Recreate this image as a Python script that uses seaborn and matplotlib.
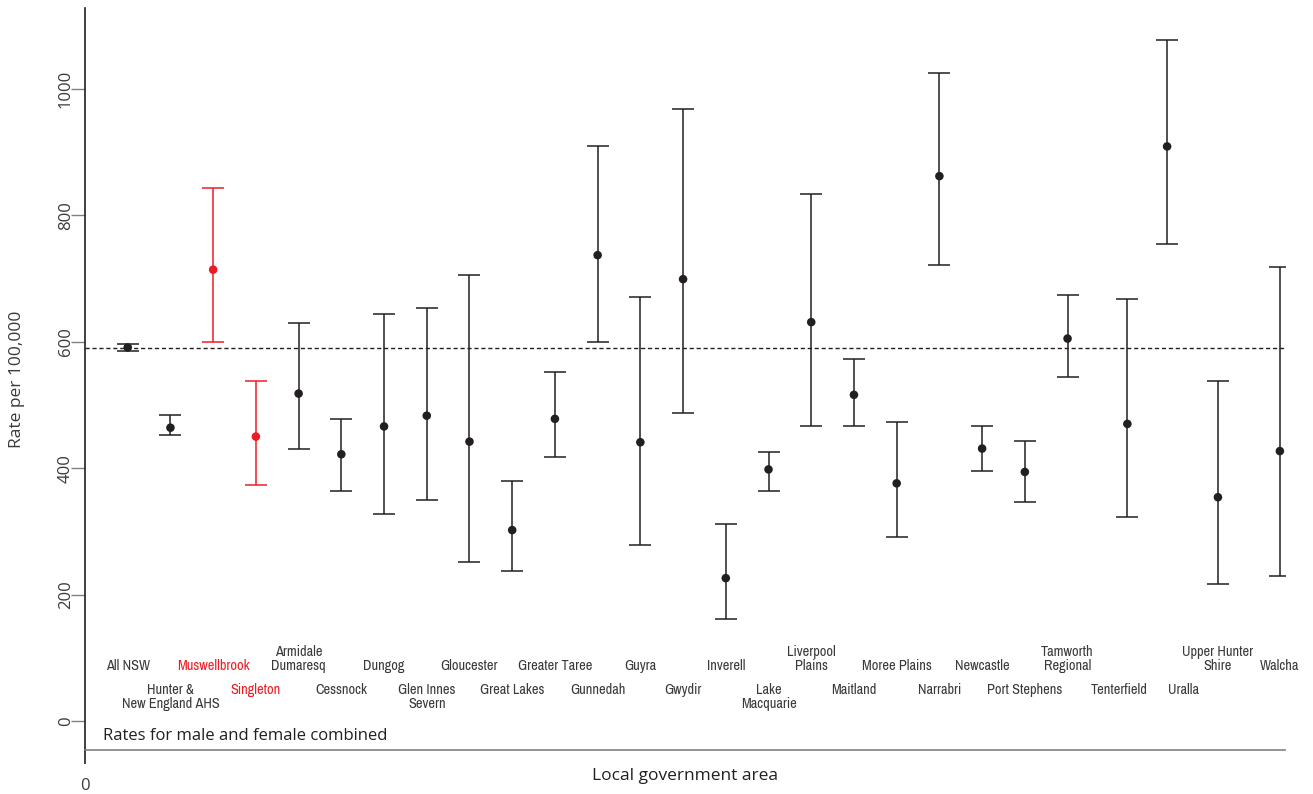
import numpy as np
import pandas as pd
import matplotlib
matplotlib.use("Agg")
import matplotlib.pyplot as plt
from matplotlib import font_manager
import seaborn as sns

# ---------------- data ----------------
lga = ["All NSW", "Hunter &\nNew England AHS", "Muswellbrook", "Singleton",
       "Armidale\nDumaresq", "Cessnock", "Dungog", "Glen Innes\nSevern",
       "Gloucester", "Great Lakes", "Greater Taree", "Gunnedah", "Guyra",
       "Gwydir", "Inverell", "Lake\nMacquarie", "Liverpool\nPlains", "Maitland",
       "Moree Plains", "Narrabri", "Newcastle", "Port Stephens",
       "Tamworth\nRegional", "Tenterfield", "Uralla", "Upper Hunter\nShire",
       "Walcha"]
xpos = [1, 2, 3, 4, 5, 6, 7, 8, 9, 10, 11, 12, 13, 14, 15, 16, 17, 18, 19,
        20, 21, 22, 23, 24.4, 25.33, 26.52, 27.97]
rate = [591, 464, 714, 450, 518, 422, 466, 483, 442, 302, 478, 737, 441, 699,
        226, 398, 631, 516, 376, 862, 431, 394, 605, 470, 909, 354, 427]
lower = [585.5, 452, 600, 373, 430, 364, 327, 349, 252, 238, 417, 599, 279,
         488, 162, 364.5, 466, 467, 291, 722, 395, 346, 544, 322.5, 755, 217,
         230]
upper = [596.5, 484, 843, 538, 630, 477, 643.5, 653, 705, 380, 552, 909,
         670.5, 969, 311, 425, 833, 573, 473, 1024.5, 467, 443, 673.5, 667,
         1078, 538.5, 718]
highlight = ["Muswellbrook", "Singleton"]
label_row = [0, 1, 0, 1, 0, 1, 0, 1, 0, 1, 0, 1, 0, 1, 0, 1, 0, 1, 0, 1, 0, 1,
             0, 1, 1, 0, 0]
nsw_rate = 590
y_ticks = [0, 200, 400, 600, 800, 1000]

# ---------------- style ----------------
BLACK = "#231f20"
RED = "#ed1c24"
GREY = "#808080"
TXT = "#3a3a3a"

sns.set_style("ticks")
avail = sorted({f.name for f in font_manager.fontManager.ttflist})
cond = [n for n in avail if ("Narrow" in n or "Condensed" in n)]
main_font = ["Open Sans", "DejaVu Sans"]
narrow_font = (cond[:1] if cond else []) + ["Roboto", "DejaVu Sans"]
label_size = 10.3 if cond else 9.3
plt.rcParams["font.family"] = main_font

df = pd.DataFrame({"lga": lga, "x": xpos, "rate": rate,
                   "lower": lower, "upper": upper})
df["group"] = np.where(df["lga"].isin(highlight), "hl", "normal")

fig = plt.figure(figsize=(13.13, 7.94), dpi=100)
ax = fig.add_axes([85 / 1313, 44 / 794, 1200 / 1313, 742 / 794])

for grp, col in [("normal", BLACK), ("hl", RED)]:
    sub = df[df["group"] == grp]
    ax.errorbar(sub["x"], sub["rate"],
                yerr=[sub["rate"] - sub["lower"], sub["upper"] - sub["rate"]],
                fmt="none", ecolor=col, elinewidth=1.1, capsize=7.9,
                capthick=1.1, zorder=2)

sns.scatterplot(data=df, x="x", y="rate", hue="group",
                palette={"normal": BLACK, "hl": RED}, s=38, linewidth=0,
                legend=False, ax=ax, zorder=3)

ax.axhline(nsw_rate, color=BLACK, lw=1.0, ls=(0, (3, 2)), zorder=1)

# category labels (a couple nudged sideways as in the reference)
nudge = {"Tenterfield": -0.2, "Uralla": 0.38}
for lab, x, row in zip(lga, xpos, label_row):
    col = RED if lab in highlight else TXT
    lx = x + nudge.get(lab, 0)
    if row == 0:
        ax.text(lx, 76, lab, ha="center", va="bottom", fontsize=label_size,
                color=col, family=narrow_font, linespacing=0.95)
    else:
        ax.text(lx, 60, lab, ha="center", va="top", fontsize=label_size,
                color=col, family=narrow_font, linespacing=0.95)

ax.text(0.015, 0.019, "Rates for male and female combined",
        transform=ax.transAxes, ha="left", va="center", fontsize=12,
        color=BLACK)

# axes
ax.set_xlim(0, 28.09)
ax.set_ylim(-45.9, 1128)
ax.set_yticks(y_ticks)
ax.set_yticklabels([str(t) for t in y_ticks], rotation=90, va="center",
                   fontsize=12, color=TXT)
ax.set_xticks([0])
ax.set_xticklabels(["0"], fontsize=12, color=TXT)
ax.tick_params(axis="y", length=10, width=1, color=GREY, pad=-2)
ax.tick_params(axis="x", length=10, width=1.2, color=BLACK, pad=10)

for s in ["top", "right"]:
    ax.spines[s].set_visible(False)
ax.spines["left"].set_color(BLACK)
ax.spines["left"].set_linewidth(1.2)
ax.spines["bottom"].set_color(GREY)
ax.spines["bottom"].set_linewidth(1.2)

ax.set_ylabel("Rate per 100,000", fontsize=12.5, color=TXT)
ax.yaxis.set_label_coords(-0.050, 0.5)
ax.set_xlabel("Local government area", fontsize=12.5, color=BLACK)
ax.xaxis.set_label_coords(0.5, -0.024)

fig.savefig("out.png", dpi=100)
